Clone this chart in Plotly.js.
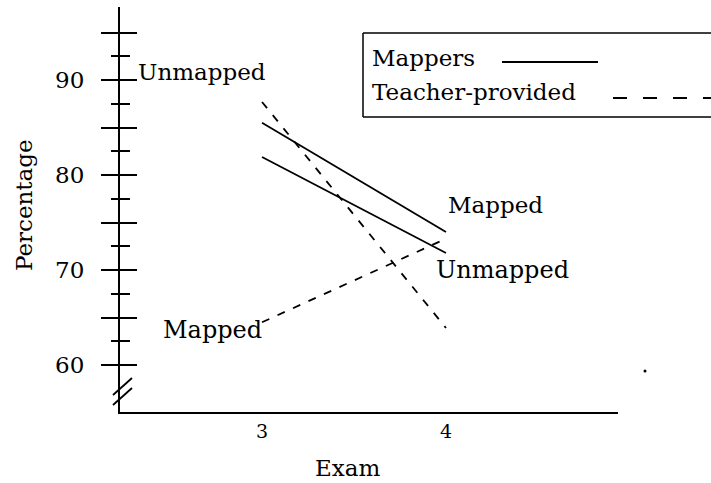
<!DOCTYPE html>
<html>
<head>
<meta charset="utf-8">
<script src="https://cdn.plot.ly/plotly-3.0.1.min.js"></script>
<style>html,body{margin:0;padding:0;background:#fff;}#chart{width:711px;height:483px;}</style>
</head>
<body>
<div id="chart"></div>
<script>
// ---- data ----
const exams = [3, 4];
const mappersMapped = [85.5, 74.0];
const mappersUnmapped = [81.9, 71.8];
const teacherMapped = [64.5, 73.3];
const teacherUnmapped = [87.7, 63.9];
const yMajorTicks = [60, 65, 70, 75, 80, 85, 90, 95];
const yMajorLabels = ["60", "", "70", "", "80", "", "90", ""];
const yMinorTicks = [62.5, 67.5, 72.5, 77.5, 82.5, 87.5, 92.5];
const xTicks = [3, 4];
const xLabels = ["3", "4"];
const legendNames = ["Mappers", "Teacher-provided"];
const lineLabels = {mapped: "Mapped", unmapped: "Unmapped"};

// ---- layout helpers (pixel -> paper) ----
const W = 711, H = 483, L = 120, R = 93, T = 7, B = 71;
const PW = W - L - R, PH = H - T - B;
const px = v => (v - L) / PW;
const py = v => (H - B - v) / PH;

const SERIF = "DejaVu Serif, Liberation Serif, serif";
const yRange = [55.05, 97.7];
const xRange = [2.228, 4.935];

const solid = {color: "#000", width: 1.8, dash: "solid"};
const dashed = {color: "#000", width: 1.8, dash: "8px,9px"};

const traces = [
  {x: exams, y: mappersMapped, mode: "lines", line: solid, name: legendNames[0] + " " + lineLabels.mapped, showlegend: false, hoverinfo: "skip"},
  {x: exams, y: mappersUnmapped, mode: "lines", line: solid, name: legendNames[0] + " " + lineLabels.unmapped, showlegend: false, hoverinfo: "skip"},
  {x: exams, y: teacherMapped, mode: "lines", line: dashed, name: legendNames[1] + " " + lineLabels.mapped, showlegend: false, hoverinfo: "skip"},
  {x: exams, y: teacherUnmapped, mode: "lines", line: dashed, name: legendNames[1] + " " + lineLabels.unmapped, showlegend: false, hoverinfo: "skip"},
  {x: [], y: [], yaxis: "y2", mode: "lines", showlegend: false, hoverinfo: "skip"}
];

const annFont = {family: SERIF, size: 23, color: "#000"};

const layout = {
  width: W, height: H,
  margin: {l: L, r: R, t: T, b: B, pad: 0},
  paper_bgcolor: "#fff", plot_bgcolor: "#fff",
  showlegend: false,
  font: {family: SERIF, color: "#000"},
  xaxis: {
    range: xRange, showgrid: false, zeroline: false,
    showline: true, linecolor: "#000", linewidth: 2,
    tickmode: "array", tickvals: xTicks, ticktext: xLabels,
    ticks: "", ticklabelstandoff: 1,
    tickfont: {family: SERIF, size: 19, color: "#000"}
  },
  yaxis: {
    range: yRange, showgrid: false, zeroline: false,
    showline: true, linecolor: "#000", linewidth: 2,
    tickmode: "array", tickvals: yMajorTicks, ticktext: yMajorLabels,
    ticks: "outside", ticklen: 17, tickwidth: 2, tickcolor: "#000",
    ticklabelstandoff: 12,
    tickfont: {family: SERIF, size: 23, color: "#000"},
    minor: {tickmode: "array", tickvals: yMinorTicks, ticks: "outside", ticklen: 7, tickwidth: 2, tickcolor: "#000", showgrid: false}
  },
  yaxis2: {
    overlaying: "y", side: "left", anchor: "x",
    range: yRange, showgrid: false, zeroline: false, showline: false,
    tickmode: "array", tickvals: yMajorTicks, showticklabels: false,
    ticks: "inside", ticklen: 17, tickwidth: 2, tickcolor: "#000",
    minor: {tickmode: "array", tickvals: yMinorTicks, ticks: "inside", ticklen: 10, tickwidth: 2, tickcolor: "#000", showgrid: false}
  },
  annotations: [
    // axis titles
    {text: "Exam", xref: "paper", yref: "paper", x: px(347), y: py(468), xanchor: "center", yanchor: "middle", showarrow: false, font: {family: SERIF, size: 23, color: "#000"}},
    {text: "Percentage", xref: "paper", yref: "paper", x: px(24), y: py(205), xanchor: "center", yanchor: "middle", textangle: -90, showarrow: false, font: {family: SERIF, size: 23, color: "#000"}},
    // line labels
    {text: lineLabels.unmapped, x: exams[0], y: 90.9, xanchor: "right", yanchor: "middle", xshift: 6, showarrow: false, font: annFont},
    {text: lineLabels.mapped, x: exams[0], y: 63.7, xanchor: "right", yanchor: "middle", xshift: 2, showarrow: false, font: {family: SERIF, size: 24, color: "#000"}},
    {text: lineLabels.mapped, x: exams[1], y: 76.9, xanchor: "left", yanchor: "middle", showarrow: false, font: annFont},
    {text: lineLabels.unmapped, x: exams[1], y: 70.0, xanchor: "left", yanchor: "middle", xshift: -12, showarrow: false, font: {family: SERIF, size: 24, color: "#000"}},
    // legend texts
    {text: legendNames[0], xref: "paper", yref: "paper", x: px(370), y: py(58), xanchor: "left", yanchor: "middle", showarrow: false, font: annFont},
    {text: legendNames[1], xref: "paper", yref: "paper", x: px(370), y: py(92), xanchor: "left", yanchor: "middle", showarrow: false, font: annFont}
  ],
  shapes: [
    // legend box (open on the right, cut by the page edge)
    {type: "line", xref: "paper", yref: "paper", x0: px(363), x1: px(712), y0: py(33), y1: py(33), line: {color: "#000", width: 1.5}},
    {type: "line", xref: "paper", yref: "paper", x0: px(363), x1: px(712), y0: py(117), y1: py(117), line: {color: "#000", width: 1.5}},
    {type: "line", xref: "paper", yref: "paper", x0: px(363), x1: px(363), y0: py(33), y1: py(117), line: {color: "#000", width: 1.5}},
    // legend samples
    {type: "line", xref: "paper", yref: "paper", x0: px(502), x1: px(598), y0: py(62), y1: py(62), line: {color: "#000", width: 1.8}},
    {type: "line", xref: "paper", yref: "paper", x0: px(613), x1: px(712), y0: py(98), y1: py(98), line: {color: "#000", width: 1.8, dash: "14px,16px"}},
    // axis break marks
    {type: "line", xref: "paper", yref: "paper", x0: px(132), x1: px(113), y0: py(378), y1: py(395), line: {color: "#000", width: 1.8}},
    {type: "line", xref: "paper", yref: "paper", x0: px(132), x1: px(113), y0: py(388), y1: py(405), line: {color: "#000", width: 1.8}},
    // scan speck
    {type: "circle", xref: "paper", yref: "paper", x0: px(643.5), x1: px(646.5), y0: py(369.5), y1: py(372.5), fillcolor: "#000", line: {width: 0}}
  ]
};

Plotly.newPlot("chart", traces, layout, {displayModeBar: false, staticPlot: true});
</script>
</body>
</html>
